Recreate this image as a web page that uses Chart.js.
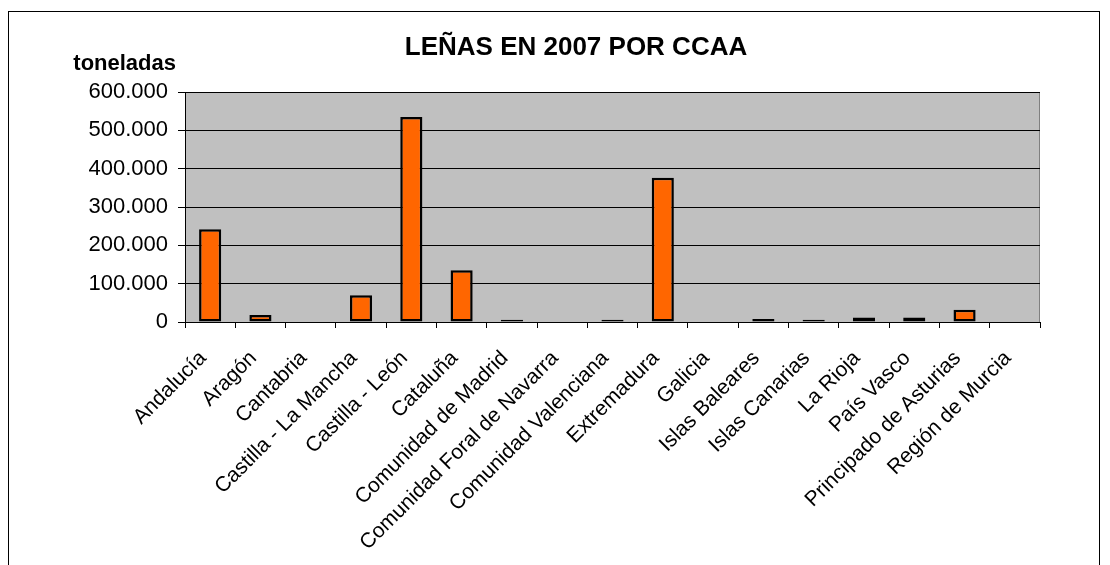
<!DOCTYPE html>
<html>
<head>
<meta charset="utf-8">
<script src="https://cdn.jsdelivr.net/npm/chart.js@4"></script>
<style>
  html, body { margin: 0; padding: 0; background: #fff; }
  #wrap { width: 1110px; height: 565px; }
</style>
</head>
<body>
<div id="wrap"><canvas id="chart" width="1110" height="565"></canvas></div>
<script>
// Regions (CCAA)
const regions = [
    'Andalucía', 'Aragón', 'Cantabria', 'Castilla - La Mancha', 'Castilla - León',
    'Cataluña', 'Comunidad de Madrid', 'Comunidad Foral de Navarra', 'Comunidad Valenciana',
    'Extremadura', 'Galicia', 'Islas Baleares', 'Islas Canarias', 'La Rioja',
    'País Vasco', 'Principado de Asturias', 'Región de Murcia'
];
// Toneladas de leñas, 2007
const toneladas = [
    242000, 18000, 0, 70000, 535000,
    135000, 6000, 0, 6000,
    376000, 0, 8000, 6000, 12000,
    12000, 32000, 0
];
const yTicks = [0, 100000, 200000, 300000, 400000, 500000, 600000];

const fontFamily = '"Liberation Sans", Arial, sans-serif';

function fmt(v) {
    return v.toString().replace(/\B(?=(\d{3})+(?!\d))/g, '.');
}

// Gray plot background, outer frame and text titles
const decor = {
    id: 'decor',
    beforeDraw(chart) {
        const { ctx, chartArea: a } = chart;
        ctx.save();
        ctx.fillStyle = '#fff';
        ctx.fillRect(0, 0, chart.width, chart.height);
        ctx.strokeStyle = '#000';
        ctx.lineWidth = 1;
        ctx.strokeRect(8.5, 11.5, 1091, 600);
        ctx.fillStyle = '#C0C0C0';
        ctx.fillRect(a.left, a.top, a.right - a.left, a.bottom - a.top);
        ctx.strokeStyle = '#808080';
        ctx.strokeRect(a.left + 0.5, a.top + 0.5, a.right - a.left - 1, a.bottom - a.top);
        ctx.restore();
    },
    afterDraw(chart) {
        const { ctx } = chart;
        ctx.save();
        ctx.fillStyle = '#000';
        ctx.textBaseline = 'middle';
        ctx.textAlign = 'center';
        ctx.font = 'bold 26px ' + fontFamily;
        ctx.fillText('LEÑAS EN 2007 POR CCAA', 576, 48);
        ctx.font = 'bold 22px ' + fontFamily;
        ctx.textAlign = 'right';
        ctx.fillText('toneladas', 176, 64);
        ctx.restore();
    }
};

new Chart(document.getElementById('chart'), {
    type: 'bar',
    data: {
        labels: regions,
        datasets: [{
            label: 'toneladas',
            data: toneladas,
            backgroundColor: '#FF6600',
            borderColor: '#000',
            borderWidth: 2.5,
            borderSkipped: false,
            barPercentage: 0.44,
            categoryPercentage: 1
        }]
    },
    options: {
        responsive: false,
        animation: false,
        layout: { padding: { top: 92, right: 70, left: 0, bottom: 0 } },
        plugins: {
            legend: { display: false },
            title: { display: false },
            tooltip: { enabled: false }
        },
        scales: {
            x: {
                offset: true,
                afterFit(axis) { axis.height = 243; },
                grid: {
                    offset: true,
                    drawOnChartArea: false,
                    color: '#000',
                    tickLength: 6
                },
                border: { color: '#000' },
                ticks: {
                    color: '#000',
                    font: { family: fontFamily, size: 21 },
                    maxRotation: 45,
                    minRotation: 45,
                    autoSkip: false,
                    padding: 18,
                    labelOffset: -7
                }
            },
            y: {
                min: 0,
                max: 600000,
                afterFit(axis) { axis.width = 185; },
                afterBuildTicks(axis) { axis.ticks = yTicks.map(v => ({ value: v })); },
                grid: {
                    color: '#000',
                    tickLength: 7,
                    lineWidth: 1
                },
                border: { color: '#000' },
                ticks: {
                    color: '#000',
                    font: { family: fontFamily, size: 22 },
                    padding: 10,
                    callback: v => fmt(v)
                }
            }
        }
    },
    plugins: [decor]
});
</script>
</body>
</html>
